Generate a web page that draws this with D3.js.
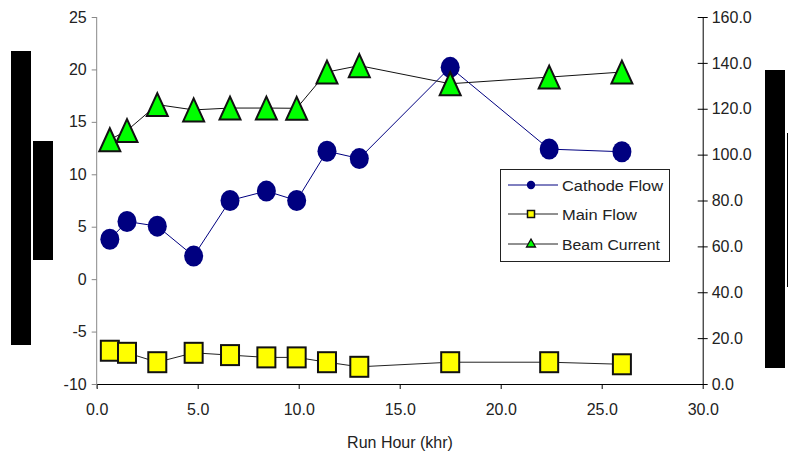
<!DOCTYPE html>
<html><head><meta charset="utf-8">
<script src="https://cdn.jsdelivr.net/npm/d3@7"></script>
<style>
body{margin:0;background:#fff;}
svg{display:block;font-family:"Liberation Sans",Arial,sans-serif;}
</style></head>
<body><svg id="c" width="788" height="457"></svg>
<script>
const runHours = [0.65, 1.5, 3.0, 4.8, 6.6, 8.4, 9.9, 11.4, 13.0, 17.5, 22.4, 26.0];
const cathodeFlow = [3.8, 5.5, 5.05, 2.2, 7.5, 8.4, 7.5, 12.2, 11.5, 20.2, 12.4, 12.15];
const mainFlow = [14.5, 13.6, 9.5, 13.6, 12.6, 11.6, 11.6, 9.5, 7.5, 9.5, 9.5, 8.6];
const beamCurrent = [106.5, 110.5, 121.8, 119.5, 120.3, 120.3, 120.2, 136.0, 138.8, 130.9, 133.8, 136.0];
const xTicks = [0, 5, 10, 15, 20, 25, 30];
const leftTicks = [-10, -5, 0, 5, 10, 15, 20, 25];
const rightTicks = [0, 20, 40, 60, 80, 100, 120, 140, 160];
const seriesNames = ["Cathode Flow", "Main Flow", "Beam Current"];

const svg = d3.select("#c");
const x = d3.scaleLinear().domain([0, 30]).range([96.7, 702.7]);
const yL = d3.scaleLinear().domain([-10, 25]).range([384, 17]);
const yR = d3.scaleLinear().domain([0, 160]).range([384, 17]);

// redaction boxes
svg.append("rect").attr("x", 11).attr("y", 51).attr("width", 20).attr("height", 294).attr("fill", "#000");
svg.append("rect").attr("x", 33).attr("y", 141).attr("width", 20).attr("height", 119).attr("fill", "#000");
svg.append("rect").attr("x", 765).attr("y", 70).attr("width", 20).attr("height", 298).attr("fill", "#000");
svg.append("line").attr("x1", 787.5).attr("x2", 787.5).attr("y1", 133).attr("y2", 287).attr("stroke", "#000");

const fmtInt = d => String(d);            // plain hyphen minus
const fmt1 = d => d.toFixed(1);

// x axis
const gx = svg.append("g").attr("transform", "translate(0,384)")
  .call(d3.axisBottom(x).tickValues(xTicks).tickFormat(fmt1).tickSize(5).tickSizeOuter(0));
// left axis
const gl = svg.append("g").attr("transform", "translate(96.7,0)")
  .call(d3.axisLeft(yL).tickValues(leftTicks).tickFormat(fmtInt).tickSize(5).tickSizeOuter(0));
// right axis
const gr = svg.append("g").attr("transform", "translate(702.7,0)")
  .call(d3.axisRight(yR).tickValues(rightTicks).tickFormat(fmt1).tickSize(5).tickSizeOuter(0));
gr.selectAll(".tick line").attr("x1", -5);

[gx, gl, gr].forEach(g => {
  g.selectAll("text").attr("font-size", 16).attr("font-family", '"Liberation Sans",Arial,sans-serif').attr("fill", "#222");
});
gl.select(".domain").attr("stroke", "#888").attr("d", "M0,17V388");
gl.selectAll(".tick line").attr("stroke", "#888");
gx.selectAll("text").attr("y", 20).attr("dy", "0.71em");
gl.selectAll("text").attr("x", -10);
gr.selectAll("text").attr("x", 9);

svg.append("text").attr("x", 400).attr("y", 448).attr("text-anchor", "middle")
  .attr("font-size", 16).attr("fill", "#222").text("Run Hour (khr)");

const pts = (vals, ys) => runHours.map((h, i) => [x(h), ys(vals[i])]);
const line = d3.line();

// Cathode flow
const cp = pts(cathodeFlow, yL);
svg.append("path").attr("d", line(cp)).attr("fill", "none").attr("stroke", "#000080").attr("stroke-width", 1);
svg.selectAll(".cm").data(cp).join("ellipse").attr("cx", d => d[0]).attr("cy", d => d[1])
  .attr("rx", 9.5).attr("ry", 10.5).attr("fill", "#000080");

// Main flow
const mp = pts(mainFlow, yR);
svg.append("path").attr("d", line(mp)).attr("fill", "none").attr("stroke", "#222").attr("stroke-width", 1);
svg.selectAll(".mm").data(mp).join("rect").attr("x", d => d[0] - 9).attr("y", d => d[1] - 10)
  .attr("width", 18).attr("height", 20).attr("fill", "#ffff00").attr("stroke", "#111").attr("stroke-width", 2);

// Beam current
const bp = pts(beamCurrent, yR);
svg.append("path").attr("d", line(bp)).attr("fill", "none").attr("stroke", "#111").attr("stroke-width", 1);
const tri = (cx, cy, w, h) => `M${cx},${cy - h / 2}L${cx + w / 2},${cy + h / 2}L${cx - w / 2},${cy + h / 2}Z`;
svg.selectAll(".bm").data(bp).join("path").attr("d", d => tri(d[0], d[1], 21, 23))
  .attr("fill", "#00ff00").attr("stroke", "#111").attr("stroke-width", 2).attr("stroke-linejoin", "miter");

// legend
const lg = svg.append("g");
lg.append("rect").attr("x", 500.5).attr("y", 169.5).attr("width", 169).attr("height", 92)
  .attr("fill", "#fff").attr("stroke", "#222").attr("stroke-width", 1);
const ly = [185, 214, 244];
const lcol = ["#000080", "#222", "#222"];
const lw = [101, 75, 98];
seriesNames.forEach((n, i) => {
  lg.append("line").attr("x1", 508).attr("x2", 558).attr("y1", ly[i]).attr("y2", ly[i]).attr("stroke", lcol[i]);
  if (i === 0) lg.append("circle").attr("cx", 531).attr("cy", ly[i]).attr("r", 4.2).attr("fill", "#000080");
  if (i === 1) lg.append("rect").attr("x", 527.5).attr("y", ly[i] - 3.5).attr("width", 7).attr("height", 7)
    .attr("fill", "#ffff00").attr("stroke", "#111").attr("stroke-width", 1.5);
  if (i === 2) lg.append("path").attr("d", tri(531, ly[i] - 1, 9, 8)).attr("fill", "#00ff00").attr("stroke", "#111").attr("stroke-width", 1.3);
  lg.append("text").attr("x", 562).attr("y", ly[i] + 5.5).attr("font-size", 15.5).attr("fill", "#222")
    .attr("textLength", lw[i]).attr("lengthAdjust", "spacingAndGlyphs").text(n);
});
</script></body></html>
